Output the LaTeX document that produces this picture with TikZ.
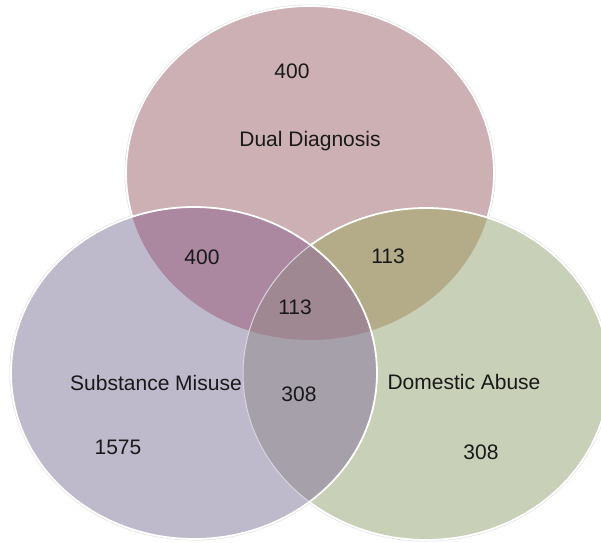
\documentclass[tikz,border=0pt]{standalone}
\usepackage{fontspec}
\setmainfont{Liberation Sans}
\usepackage{tikz}
\usetikzlibrary{positioning}
\definecolor{dualcolor}{RGB}{205,176,179}
\definecolor{subscolor}{RGB}{191,185,204}
\definecolor{domcolor}{RGB}{200,208,184}
\definecolor{dsmix}{RGB}{171,136,160}
\definecolor{ddmix}{RGB}{180,172,136}
\definecolor{sdmix}{RGB}{165,160,170}
\definecolor{allmix}{RGB}{160,136,146}
\definecolor{rimgray}{RGB}{225,225,225}

\tikzset{
  lbl/.style={inner sep=0pt, font=\fontsize{21pt}{25pt}\selectfont, text=black!90},
  rim/.style={draw=white, line width=1.8pt},
}

\begin{document}
\begin{tikzpicture}[x=1pt, y=-1pt]
\useasboundingbox (0,0) rectangle (601,542);
% circles: dual (top), substance (left), domestic (right)
\def\dualC{(310,173) ellipse [x radius=184, y radius=167]}
\def\subsC{(194,373) ellipse [x radius=183, y radius=166]}
\def\domC{(426,374) ellipse [x radius=183, y radius=166]}
% faint shadow rims
\draw[rimgray, line width=3pt] \dualC;
\draw[rimgray, line width=3pt] \subsC;
\draw[rimgray, line width=3pt] \domC;
% top circle
\fill[dualcolor] \dualC;
\draw[rim] \dualC;
% right circle
\fill[domcolor] \domC;
\begin{scope}
  \clip \dualC;
  \fill[ddmix] \domC;
\end{scope}
\draw[rim] \domC;
% left circle
\fill[subscolor] \subsC;
\begin{scope}
  \clip \subsC;
  \fill[dsmix] \dualC;
  \fill[sdmix] \domC;
  \clip \dualC;
  \fill[allmix] \domC;
\end{scope}
\begin{scope}
  \clip \subsC;
  \draw[subscolor!60!white, line width=1pt] \domC;
\end{scope}
\draw[rim] \subsC;
% labels
\node[lbl] (dualn) at (292,71) {400};
\node[lbl] (dual) at (310,141) {Dual Diagnosis};
\node[lbl] (dsn) at (202,257) {400};
\node[lbl] (ddn) at (388,256) {113};
\node[lbl] (alln) at (295,307) {113};
\node[lbl] (subs) at (156,383) {Substance Misuse};
\node[lbl] (sdn) at (299,394) {308};
\node[lbl] (dom) at (464,382) {Domestic Abuse};
\node[lbl] (subsn) at (118,447) {1575};
\node[lbl] (domn) at (481,452) {308};
\end{tikzpicture}
\end{document}
